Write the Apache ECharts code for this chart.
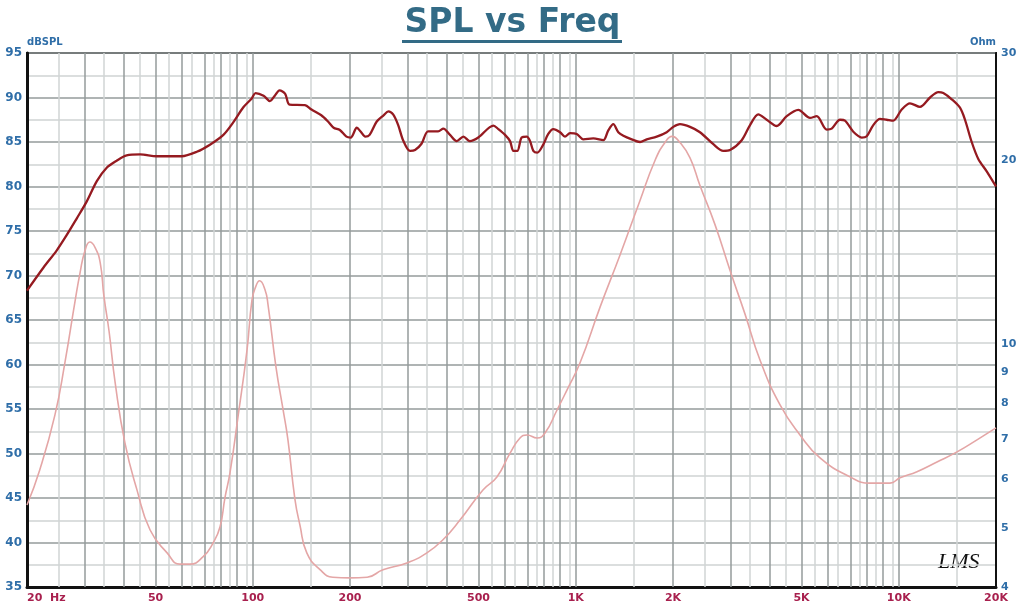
<!DOCTYPE html>
<html>
<head>
<meta charset="utf-8">
<script src="https://cdn.jsdelivr.net/npm/echarts@6/dist/echarts.min.js"></script>
<style>
  html, body { margin: 0; padding: 0; background: #fff; }
  #chart { width: 1025px; height: 606px; }
</style>
</head>
<body>
<div id="chart"></div>
<script>
// SPL response (Hz, dB)
var splFreq = [20, 22.5, 24.7, 26.5, 28.5, 30.6, 32.9, 35.3, 37.9, 40.7,
  44.8, 50.4, 60.2, 67.1, 73.7, 81.1, 87.0, 93.5, 99.3,
  102, 108, 113, 117, 121, 126, 130,
  145, 152, 163, 171, 178, 186, 195, 201, 210, 216, 223, 230, 242, 254,
  263, 272, 282, 292, 307, 318, 333, 349, 375, 389, 408, 428, 449, 470,
  499,
  556, 576, 604, 626, 641, 659, 680, 705, 722, 739, 760, 793, 822, 852, 894, 926, 960,
  1007, 1055, 1133, 1217, 1261, 1307, 1354, 1404, 1490, 1581, 1658, 1781, 1912,
  2004, 2102, 2258, 2424, 2666, 2862, 3004, 3264, 3464, 3674, 3900, 4190, 4498, 4886,
  5312, 5572, 5984, 6200, 6578, 6816, 7232, 7678, 7958, 8338, 8748, 9176, 9616,
  10210, 10832, 11634, 12498, 13258, 13736, 14584, 15472, 16034, 16818, 17628, 18718, 20000];
var splDb = [68.3, 70.9, 72.8, 74.5, 76.4, 78.3, 80.6, 82.1, 82.9, 83.5,
  83.6, 83.4, 83.4, 83.9, 84.7, 85.8, 87.2, 88.9, 89.9,
  90.5, 90.2, 89.6, 90.2, 90.8, 90.4, 89.2,
  89.15, 88.65, 88.0, 87.3, 86.6, 86.35, 85.6, 85.5, 86.6, 86.15, 85.6, 85.8, 87.3, 88.0,
  88.45, 88.1, 86.9, 85.2, 84.0, 84.1, 84.8, 86.2, 86.2, 86.5, 85.8, 85.1, 85.6, 85.1,
  85.5,
  86.85, 86.45, 85.8, 85.1, 84.0, 84.0, 85.5, 85.6, 85.1, 84.0, 83.8, 84.7, 85.9, 86.45, 86.1, 85.6, 86.0,
  85.9, 85.3, 85.4, 85.2, 86.3, 87.0, 86.1, 85.7, 85.3, 85.0, 85.3, 85.6, 86.1,
  86.7, 87.0, 86.7, 86.1, 84.75, 84.0, 84.1, 85.2, 86.9, 88.1, 87.5, 86.8, 87.9, 88.6,
  87.7, 87.9, 86.4, 86.5, 87.5, 87.4, 86.15, 85.5, 85.65, 86.9, 87.6, 87.5, 87.4,
  88.65, 89.35, 88.95, 90.0, 90.6, 90.5, 89.8, 88.85, 87.5, 85.0, 83.1, 81.7, 80.0];

// impedance (Hz, Ohm)
var impFreq = [20, 21.9, 24.4, 26.2, 28.2, 29.2, 30.2, 31.3, 32.5, 33.7,
  34.6, 35.9, 37.5, 40.2, 43.8, 48.1, 54.3, 59.5, 63.9, 70.1,
  75.3, 79.2, 82.0, 85.0, 90.0, 96.0, 99.4, 102, 105, 109,
  111.5, 118, 124, 128.5, 135, 140, 147, 161.5, 177, 200,
  226, 253, 300, 346, 388, 438, 516, 570, 626, 672,
  706, 759, 803, 875, 939, 1031, 1189, 1371, 1581, 1759,
  1889, 1986, 2102, 2258, 2424, 2698, 3004, 3342, 3718, 4290,
  4946, 5704, 7064, 8146, 9394, 10090, 11386, 13132, 15150, 17468, 20000];
var impOhm = [5.45, 6.22, 7.65, 9.32, 11.8, 13.1, 14.2, 14.7, 14.4, 13.6,
  12.0, 10.5, 8.64, 6.89, 5.77, 4.96, 4.55, 4.36, 4.36, 4.48,
  4.72, 5.02, 5.60, 6.15, 7.60, 9.79, 11.8, 12.4, 12.7, 12.3,
  11.6, 9.17, 7.83, 6.97, 5.58, 5.05, 4.55, 4.27, 4.15, 4.14,
  4.15, 4.27, 4.38, 4.55, 4.78, 5.15, 5.77, 6.06, 6.63, 7.02,
  7.10, 7.02, 7.15, 7.80, 8.41, 9.32, 11.5, 14.0, 17.2, 20.0,
  21.4, 21.9, 21.4, 20.2, 18.2, 15.7, 13.2, 11.2, 9.42, 7.95,
  7.10, 6.51, 6.06, 5.92, 5.92, 6.04, 6.18, 6.41, 6.66, 6.97, 7.29];

// tick labels
var freqTicks = [20, 50, 100, 200, 500, 1000, 2000, 5000, 10000, 20000];
var freqLabels = ['20  Hz', '50', '100', '200', '500', '1K', '2K', '5K', '10K', '20K'];
var ohmTicks = [4, 5, 6, 7, 8, 9, 10, 20, 30];

var lg = Math.log10;

// vertical log grid: whole steps dark, half steps light
var gridLines = [];
[10, 100, 1000, 10000].forEach(function (dec) {
  for (var m = 1; m < 10; m += 0.5) {
    var f = m * dec;
    if (f <= 20 || f >= 20000) continue;
    var whole = (m % 1 === 0);
    gridLines.push({
      xAxis: lg(f),
      lineStyle: { color: whole ? '#959b9b' : '#d0d4d4', width: 1.5, type: 'solid' }
    });
  }
});

var chart = echarts.init(document.getElementById('chart'));

var blue = '#2f6ea8';
var red = '#a8204e';

var option = {
  backgroundColor: '#fff',
  animation: false,
  title: {
    text: 'SPL vs Freq',
    left: 'center',
    top: 2,
    textStyle: { fontSize: 33, fontWeight: 'bold', fontFamily: 'DejaVu Sans', color: '#336b86' }
  },
  graphic: [
    {
      type: 'line',
      shape: { x1: 402, y1: 41.5, x2: 622, y2: 41.5 },
      style: { stroke: '#336b86', lineWidth: 3 }
    },
    {
      type: 'text',
      left: 938,
      top: 551,
      style: { text: 'LMS', font: 'italic 22px "Liberation Serif"', fill: '#111' }
    }
  ],
  grid: {
    left: 27, right: 29, top: 53, bottom: 19,
    show: true, borderColor: '#222', borderWidth: 2
  },
  xAxis: {
    type: 'value',
    min: lg(20),
    max: lg(20000),
    axisLine: { show: true, onZero: false, lineStyle: { color: '#111', width: 3 } },
    axisTick: { show: false },
    splitLine: { show: false },
    axisLabel: {
      customValues: freqTicks.map(lg),
      alignMinLabel: 'left',
      margin: 6,
      color: red,
      fontSize: 11,
      fontWeight: 'bold',
      fontFamily: 'DejaVu Sans',
      formatter: function (v) {
        var i = freqTicks.findIndex(function (f) { return Math.abs(lg(f) - v) < 1e-6; });
        return i < 0 ? '' : freqLabels[i];
      }
    }
  },
  yAxis: [
    {
      type: 'value',
      min: 35,
      max: 95,
      interval: 5,
      name: 'dBSPL',
      nameLocation: 'end',
      nameGap: 5,
      nameTextStyle: { align: 'left', color: blue, fontSize: 10, fontWeight: 'bold', fontFamily: 'DejaVu Sans' },
      axisLine: { show: true, lineStyle: { color: '#111', width: 3 } },
      axisTick: { show: false },
      minorTick: { show: false, splitNumber: 2 },
      splitLine: { show: true, lineStyle: { color: '#959b9b', width: 1.5 } },
      minorSplitLine: { show: true, lineStyle: { color: '#d0d4d4', width: 1.5 } },
      axisLabel: { color: blue, fontSize: 12, fontWeight: 'bold', fontFamily: 'DejaVu Sans', margin: 5 }
    },
    {
      type: 'value',
      position: 'right',
      min: lg(4),
      max: lg(30),
      name: 'Ohm',
      nameLocation: 'end',
      nameGap: 5,
      nameTextStyle: { align: 'right', color: blue, fontSize: 10, fontWeight: 'bold', fontFamily: 'DejaVu Sans' },
      axisLine: { show: true, lineStyle: { color: '#111', width: 2 } },
      axisTick: { show: false },
      splitLine: { show: false },
      axisLabel: {
        customValues: ohmTicks.map(lg),
        color: blue, fontSize: 11, fontWeight: 'bold', fontFamily: 'DejaVu Sans', margin: 5,
        formatter: function (v) { return String(Math.round(Math.pow(10, v))); }
      }
    }
  ],
  series: [
    {
      type: 'line',
      data: [],
      silent: true,
      z: 1,
      markLine: {
        silent: true,
        z: 1,
        symbol: 'none',
        label: { show: false },
        emphasis: { disabled: true },
        data: gridLines
      }
    },
    {
      name: 'Impedance',
      type: 'line',
      yAxisIndex: 1,
      z: 3,
      smooth: 0.5,
      showSymbol: false,
      lineStyle: { color: '#e4a6a6', width: 1.6 },
      data: impFreq.map(function (f, i) { return [lg(f), lg(impOhm[i])]; })
    },
    {
      name: 'SPL',
      type: 'line',
      z: 4,
      smooth: 0.3,
      showSymbol: false,
      lineStyle: { color: '#951a20', width: 2.3 },
      data: splFreq.map(function (f, i) { return [lg(f), splDb[i]]; })
    }
  ]
};

chart.setOption(option);
</script>
</body>
</html>
